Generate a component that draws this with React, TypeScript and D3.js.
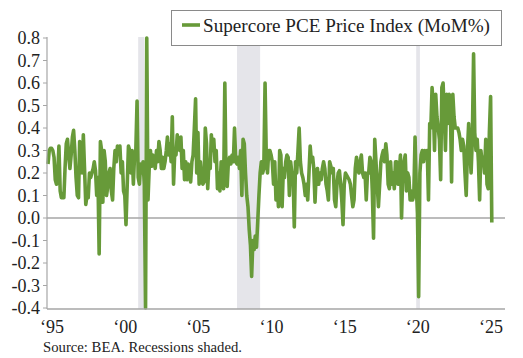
import React from 'react';
import * as d3 from 'd3';

const START_YEAR = 1995;

// Supercore PCE MoM %, monthly from Jan 1995
const supercore: number[] = [
  0.24, 0.30, 0.31, 0.31, 0.30, 0.27, 0.17, 0.15, 0.20, 0.32,
  0.12, 0.09, 0.09, 0.09, 0.22, 0.33, 0.35, 0.28, 0.22, 0.28,
  0.36, 0.39, 0.30, 0.18, 0.10, 0.09, 0.34, 0.33, 0.20, 0.37,
  0.22, 0.06, 0.10, 0.09, 0.20, 0.18, 0.20, 0.22, 0.25, 0.21,
  0.10, 0.18, -0.16, 0.34, 0.30, 0.07, 0.30, 0.25, 0.10, 0.14,
  0.20, 0.22, 0.12, 0.08, 0.22, 0.30, 0.25, 0.32, 0.30, 0.32,
  0.20, 0.25, 0.12, 0.10, -0.03, 0.15, 0.32, 0.30, 0.20, 0.30,
  0.15, 0.28, 0.30, 0.52, 0.18, 0.15, 0.24, 0.20, 0.25, 0.15,
  -0.40, 0.80, 0.08, 0.22, 0.30, 0.23, 0.28, 0.25, 0.22, 0.30,
  0.25, 0.34, 0.30, 0.22, 0.27, 0.22, 0.25, 0.30, 0.36, 0.28,
  0.33, 0.25, 0.45, 0.15, 0.30, 0.28, 0.37, 0.33, 0.30, 0.36,
  0.22, 0.30, 0.17, 0.25, 0.17, 0.24, 0.20, 0.16, 0.25, 0.28,
  0.40, 0.53, 0.20, 0.38, 0.15, 0.25, 0.18, 0.15, 0.16, 0.40,
  0.33, 0.13, 0.25, 0.22, 0.37, 0.30, 0.35, 0.25, 0.30, 0.13,
  0.20, 0.12, 0.25, 0.20, 0.13, 0.60, 0.22, 0.14, 0.25, 0.27,
  0.24, 0.28, 0.25, 0.40, 0.25, 0.24, 0.27, 0.22, 0.30, 0.10,
  0.35, 0.33, 0.20, 0.10, 0.05, -0.05, -0.12, -0.26, -0.10, -0.14,
  -0.08, -0.13, -0.02, 0.10, 0.20, 0.25, 0.20, 0.22, 0.60, 0.28,
  0.20, 0.30, 0.30, 0.28, 0.25, 0.15, 0.25, 0.08, 0.15, 0.05,
  0.30, 0.28, 0.05, 0.22, 0.18, 0.25, 0.28, 0.27, 0.10, 0.25,
  0.20, 0.20, -0.04, 0.25, 0.20, 0.30, 0.40, 0.25, 0.20, 0.18,
  0.15, 0.10, 0.15, 0.08, 0.20, 0.32, 0.25, 0.27, 0.22, 0.07,
  0.20, 0.22, 0.15, 0.20, 0.17, 0.22, 0.25, 0.22, 0.15, 0.12,
  0.08, 0.25, 0.23, 0.20, 0.22, 0.08, 0.05, 0.15, 0.20, 0.21,
  0.15, 0.07, -0.03, 0.15, 0.20, 0.19, 0.18, 0.17, 0.15, 0.10,
  0.05, 0.08, 0.22, 0.27, 0.22, 0.20, 0.25, 0.28, 0.20, 0.18,
  0.20, 0.08, 0.20, 0.20, 0.27, 0.25, 0.12, -0.09, 0.35, 0.25,
  0.15, 0.05, 0.15, 0.25, 0.28, 0.30, 0.25, 0.33, 0.28, 0.15,
  0.13, 0.25, 0.15, 0.20, 0.13, 0.25, 0.25, 0.15, 0.20, 0.28,
  0.00, 0.20, 0.25, 0.28, 0.12, 0.20, 0.18, 0.08, 0.12, 0.08,
  0.10, 0.36, 0.15, 0.02, -0.35, 0.20, 0.28, 0.30, 0.25, 0.30,
  0.28, 0.30, 0.08, 0.42, 0.40, 0.58, 0.50, 0.30, 0.55, 0.45,
  0.40, 0.35, 0.17, 0.58, 0.60, 0.45, 0.30, 0.55, 0.42, 0.55,
  0.50, 0.16, 0.55, 0.45, 0.40, 0.40, 0.40, 0.38, 0.35, 0.30,
  0.35, 0.32, 0.20, 0.10, 0.30, 0.42, 0.30, 0.20, 0.35, 0.73,
  0.38, 0.30, 0.35, 0.25, 0.08, 0.30, 0.25, 0.27, 0.20, 0.35,
  0.15, 0.13, 0.38, 0.54, -0.02,
];

const yTicks: number[] = [0.8, 0.7, 0.6, 0.5, 0.4, 0.3, 0.2, 0.1, 0.0, -0.1, -0.2, -0.3, -0.4];
const xTickYears: number[] = [1995, 2000, 2005, 2010, 2015, 2020, 2025];
const xTickLabels: string[] = ['\u201895', '\u201800', '\u201805', '\u201810', '\u201815', '\u201820', '\u201825'];
const recessionStarts: string[] = ['2001-03-01', '2007-12-01', '2020-03-01'];
const recessionEnds: string[] = ['2001-08-01', '2009-07-01', '2020-06-01'];
const seriesName = 'Supercore PCE Price Index (MoM%)';
const sourceNote = 'Source: BEA. Recessions shaded.';

const FONT = "'Liberation Serif', 'Times New Roman', serif";
const GREEN = '#679a39';
const GREY = '#a6a6a6';

export default function App() {
  const W = 523;
  const H = 358;
  const x = d3
    .scaleTime()
    .domain([new Date(1995, 0, 1), new Date(2025, 0, 1)])
    .range([48, 487]);
  const y = d3.scaleLinear().domain([-0.4, 0.8]).range([308, 38]);
  const parse = d3.timeParse('%Y-%m-%d');

  const points = supercore.map((v, i) => ({ d: new Date(START_YEAR, i, 1), v }));
  const line = d3
    .line<{ d: Date; v: number }>()
    .x((p) => x(p.d))
    .y((p) => y(p.v));

  const axisLeft = 47;
  const axisRight = 505;
  const axisBottom = 309;

  return (
    <svg
      width={W}
      height={H}
      style={{ position: 'absolute', left: 0, top: 0, background: '#fff' }}
      fontFamily={FONT}
    >
      <rect x={0} y={0} width={W} height={H} fill="#fff" />
      {recessionStarts.map((s, i) => {
        const x0 = x(parse(s) as Date);
        const x1 = x(parse(recessionEnds[i]) as Date);
        return <rect key={s} x={x0} y={37} width={x1 - x0} height={axisBottom - 37} fill="#e5e5ea" />;
      })}
      <line x1={axisLeft} x2={axisRight} y1={y(0)} y2={y(0)} stroke={GREY} strokeWidth={1.5} />
      <path d={line(points) || ''} fill="none" stroke={GREEN} strokeWidth={3.6} strokeLinejoin="round" />
      {/* y axis */}
      <line x1={axisLeft} x2={axisLeft} y1={37} y2={axisBottom} stroke={GREY} strokeWidth={1.2} />
      {yTicks.map((t) => (
        <g key={t}>
          <line x1={axisLeft - 4} x2={axisLeft} y1={y(t)} y2={y(t)} stroke={GREY} strokeWidth={1} />
          <text x={40} y={y(t)} dy="0.35em" textAnchor="end" fontSize={18} fill="#222">
            {t.toFixed(1)}
          </text>
        </g>
      ))}
      {/* x axis */}
      <line x1={axisLeft} x2={axisRight} y1={axisBottom} y2={axisBottom} stroke={GREY} strokeWidth={1.5} />
      {xTickYears.map((yr, i) => (
        <text key={yr} x={x(new Date(yr, 0, 1)) + 4} y={333} textAnchor="middle" fontSize={18} fill="#222">
          {xTickLabels[i]}
        </text>
      ))}
      {/* legend */}
      <rect x={171.5} y={10.5} width={330} height={35} fill="#fff" stroke="#8a8a8a" strokeWidth={1} />
      <line x1={182} x2={200} y1={25} y2={25} stroke={GREEN} strokeWidth={3.6} />
      <text x={203} y={32} fontSize={19} fill="#222" textLength={287} lengthAdjust="spacingAndGlyphs">
        {seriesName}
      </text>
      <text x={43} y={352} fontSize={15} fill="#222" textLength={199} lengthAdjust="spacingAndGlyphs">
        {sourceNote}
      </text>
    </svg>
  );
}
